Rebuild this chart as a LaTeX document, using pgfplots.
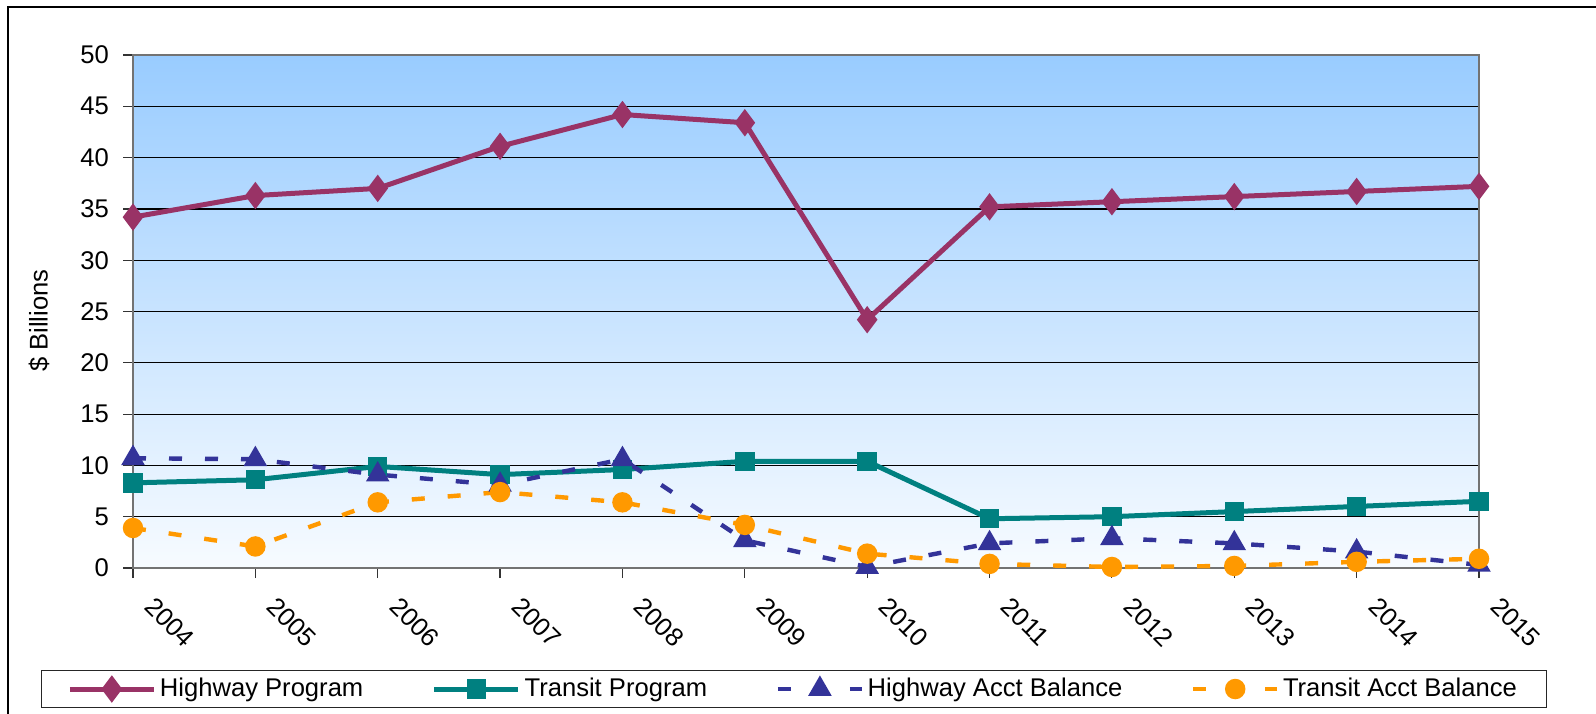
\documentclass[border=0pt]{standalone}
\usepackage{pgfplots}
\pgfplotsset{compat=1.18}
\usepackage{fontspec}
\setmainfont{Liberation Sans}
\definecolor{hwprog}{HTML}{993366}
\definecolor{trprog}{HTML}{008080}
\definecolor{hwacct}{HTML}{333399}
\definecolor{tracct}{HTML}{FF9900}
\definecolor{bgtop}{HTML}{99CCFF}
\definecolor{bgbot}{HTML}{F7FBFF}
\begin{document}
\begin{tikzpicture}
\path[use as bounding box] (0pt,0pt) rectangle (798pt,356.5pt);
\draw[line width=0.9pt] (4pt,-5pt) -- (4pt,353pt) -- (805pt,353pt);
\begin{axis}[
  at={(66.5pt,72.5pt)}, anchor=south west,
  scale only axis, width=673pt, height=256.5pt,
  xmin=2004, xmax=2015, ymin=0, ymax=50,
  xtick={2004,2005,...,2015}, ytick={0,5,...,50},
  clip=false,
  axis background/.style={top color=bgtop, bottom color=bgbot},
  ymajorgrids, major grid style={black, line width=0.6pt},
  axis line style={draw=gray!90!black, line width=1pt},
  tick align=outside, major tick length=5pt,
  tick style={black!80, line width=0.6pt},
  xtick pos=bottom, ytick pos=left,
  /pgf/number format/assume math mode=true,
  /pgf/number format/1000 sep={},
  tick label style={font=\fontsize{12.8}{14}\selectfont},
  xticklabel style={xshift=11.5pt, yshift=-4pt, rotate=-45, anchor=north west},
  yticklabel style={xshift=-3.5pt},
  ylabel={\$ Billions},
  every axis y label/.style={at={(axis description cs:-0.0698,0.482)}, rotate=90, anchor=center, font=\fontsize{12.8}{14}\selectfont},
  legend image code/.code={\draw[mark repeat=2,mark phase=2,#1] plot coordinates {(0pt,0pt) (21pt,0pt) (42pt,0pt)};},
  legend columns=4,
  legend style={at={(axis description cs:0.491,-0.2359)}, anchor=center,
    draw=black!85, line width=0.6pt, fill=white,
    font=\fontsize{12.8}{15}\selectfont,
    inner xsep=13pt, inner ysep=2pt,
    /tikz/every even column/.append style={column sep=32.5pt},
    nodes={inner xsep=1.8pt}},
]
\addplot[color=hwprog, line width=2.5pt, mark=diamond*, mark size=4.8pt, mark options={solid}] coordinates {
(2004,34.2) (2005,36.3) (2006,37.0) (2007,41.1) (2008,44.2) (2009,43.4)
(2010,24.2) (2011,35.2) (2012,35.7) (2013,36.2) (2014,36.7) (2015,37.2)};
\addlegendentry{Highway Program}
\addplot[color=trprog, line width=2.5pt, mark=square*, mark size=3.6pt, mark options={solid}] coordinates {
(2004,8.3) (2005,8.6) (2006,9.9) (2007,9.1) (2008,9.6) (2009,10.4)
(2010,10.4) (2011,4.8) (2012,5.0) (2013,5.5) (2014,6.0) (2015,6.5)};
\addlegendentry{Transit Program}
\addplot[color=hwacct, line width=2.2pt, dash pattern=on 6.5pt off 11.5pt, mark=triangle*, mark size=4.6pt, mark options={solid}] coordinates {
(2004,10.7) (2005,10.6) (2006,9.1) (2007,8.1) (2008,10.6) (2009,2.7)
(2010,0.1) (2011,2.4) (2012,2.9) (2013,2.4) (2014,1.6) (2015,0.3)};
\addlegendentry{Highway Acct Balance}
\addplot[color=tracct, line width=2.2pt, dash pattern=on 6.5pt off 11.5pt, mark=*, mark size=4pt, mark options={solid}] coordinates {
(2004,3.9) (2005,2.1) (2006,6.4) (2007,7.4) (2008,6.4) (2009,4.2)
(2010,1.4) (2011,0.4) (2012,0.1) (2013,0.2) (2014,0.6) (2015,0.9)};
\addlegendentry{Transit Acct Balance}
\end{axis}
\end{tikzpicture}
\end{document}
